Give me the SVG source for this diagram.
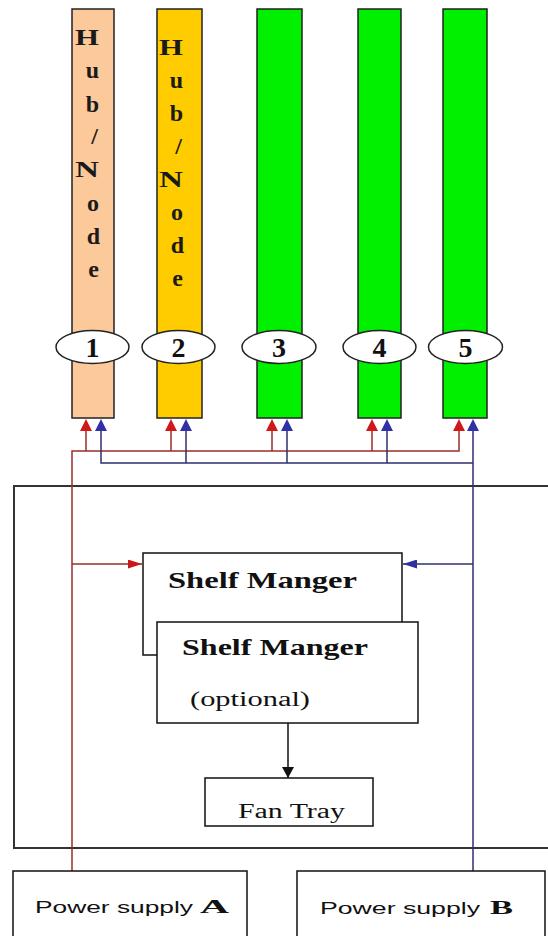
<svg xmlns="http://www.w3.org/2000/svg" width="548" height="936" viewBox="0 0 548 936">
<style>
.bar{stroke:#222;stroke-width:1.5}
.ell{fill:#fff;stroke:#222;stroke-width:1.5}
.num{font-family:"Liberation Serif",serif;font-weight:bold;font-size:28px;fill:#111;text-anchor:middle}
.hub{font-family:"Liberation Serif",serif;font-weight:bold;font-size:24px;fill:#1a1a1a;text-anchor:end}
.box{fill:#fff;stroke:#111;stroke-width:1.5}
.sm{font-family:"Liberation Serif",serif;font-weight:bold;font-size:24px;fill:#111}
.reg{font-family:"Liberation Serif",serif;font-size:20px;fill:#111}
.ps{font-family:"Liberation Sans",sans-serif;font-size:16px;fill:#111}
.psl{font-family:"Liberation Serif",serif;font-weight:bold;font-size:19px;fill:#111}
.rl{fill:none;stroke:#9a2c2c;stroke-width:1.5}
.bl{fill:none;stroke:#30306e;stroke-width:1.5}
.ra{fill:#d01818}
.ba{fill:#3030a8}
</style>
<defs>
<marker id="mr" viewBox="0 0 10 10" preserveAspectRatio="none" refX="10" refY="5" markerWidth="14" markerHeight="9" markerUnits="userSpaceOnUse" orient="auto"><path d="M0,0 L10,5 L0,10 z" fill="#c81818"/></marker>
<marker id="mb" viewBox="0 0 10 10" preserveAspectRatio="none" refX="10" refY="5" markerWidth="14" markerHeight="9" markerUnits="userSpaceOnUse" orient="auto"><path d="M0,0 L10,5 L0,10 z" fill="#3030a0"/></marker>
<marker id="mk" viewBox="0 0 10 10" preserveAspectRatio="none" refX="10" refY="5" markerWidth="11" markerHeight="12" markerUnits="userSpaceOnUse" orient="auto"><path d="M0,0 L10,5 L0,10 z" fill="#111"/></marker>
</defs>
<rect width="548" height="936" fill="#fff"/>

<g id="outer">
<rect x="14" y="486" width="560" height="362" fill="none" stroke="#333" stroke-width="2"/>
</g>

<g id="connectors">
<path class="rl" d="M72,871 V451 H459 V430"/>
<path class="rl" d="M86,451 V430 M171,451 V430 M272,451 V430 M372,451 V430"/>
<path class="rl" d="M72,564 H142" marker-end="url(#mr)"/>
<path class="bl" d="M473,871 V430 M101,430 V463 H473"/>
<path class="bl" d="M186,463 V430 M287,463 V430 M387,463 V430"/>
<path class="bl" d="M473,564 H403" marker-end="url(#mb)"/>
<path class="ra" d="M86,419 L80,431 L92,431 z M171,419 L165,431 L177,431 z M272,419 L266,431 L278,431 z M372,419 L366,431 L378,431 z M459,419 L453,431 L465,431 z"/>
<path class="ba" d="M101,419 L95,431 L107,431 z M186,419 L180,431 L192,431 z M287,419 L281,431 L293,431 z M387,419 L381,431 L393,431 z M473,419 L467,431 L479,431 z"/>
<path d="M288,723 V778" stroke="#111" stroke-width="1.5" fill="none" marker-end="url(#mk)"/>
</g>

<g id="slot1">
<rect class="bar" x="72" y="9" width="42" height="409" fill="#fcc99b"/>
<text class="hub" x="99" y="45" textLength="24" lengthAdjust="spacingAndGlyphs">H</text>
<text class="hub" x="99" y="78">u</text>
<text class="hub" x="99" y="112">b</text>
<text class="hub" x="98" y="144">/</text>
<text class="hub" x="99" y="177" textLength="24" lengthAdjust="spacingAndGlyphs">N</text>
<text class="hub" x="99" y="211">o</text>
<text class="hub" x="100" y="244">d</text>
<text class="hub" x="99" y="277">e</text>
<ellipse class="ell" cx="92.5" cy="347" rx="36.5" ry="16.5"/>
<text class="num" x="92.5" y="357">1</text>
</g>

<g id="slot2">
<rect class="bar" x="157" y="9" width="45" height="409" fill="#ffcc00"/>
<text class="hub" x="183" y="55" textLength="24" lengthAdjust="spacingAndGlyphs">H</text>
<text class="hub" x="183" y="88">u</text>
<text class="hub" x="183" y="121">b</text>
<text class="hub" x="182" y="154">/</text>
<text class="hub" x="183" y="187" textLength="24" lengthAdjust="spacingAndGlyphs">N</text>
<text class="hub" x="183" y="220">o</text>
<text class="hub" x="184" y="253">d</text>
<text class="hub" x="183" y="286">e</text>
<ellipse class="ell" cx="178.5" cy="347" rx="36.5" ry="16.5"/>
<text class="num" x="178.5" y="357">2</text>
</g>

<g id="slot3">
<rect class="bar" x="257" y="9" width="45" height="409" fill="#00f000"/>
<ellipse class="ell" cx="279" cy="347" rx="37" ry="16.5"/>
<text class="num" x="279" y="357">3</text>
</g>

<g id="slot4">
<rect class="bar" x="358" y="9" width="43" height="409" fill="#00f000"/>
<ellipse class="ell" cx="379.5" cy="347" rx="36.5" ry="16.5"/>
<text class="num" x="379.5" y="357">4</text>
</g>

<g id="slot5">
<rect class="bar" x="443" y="9" width="44" height="409" fill="#00f000"/>
<ellipse class="ell" cx="465.5" cy="347" rx="37" ry="16.5"/>
<text class="num" x="465.5" y="357">5</text>
</g>

<g id="shelf-manager-1">
<rect class="box" x="143" y="553" width="259" height="102"/>
<text class="sm" x="168" y="588" textLength="189" lengthAdjust="spacingAndGlyphs">Shelf Manger</text>
</g>

<g id="shelf-manager-2">
<rect class="box" x="157" y="622" width="261" height="101"/>
<text class="sm" x="182" y="655" textLength="186" lengthAdjust="spacingAndGlyphs">Shelf Manger</text>
<text class="reg" x="190" y="706" textLength="120" lengthAdjust="spacingAndGlyphs">(optional)</text>
</g>

<g id="fan-tray">
<rect class="box" x="205" y="778" width="168" height="48"/>
<text class="reg" x="238" y="818" textLength="107" lengthAdjust="spacingAndGlyphs">Fan Tray</text>
</g>

<g id="power-a">
<rect class="box" x="13" y="871" width="234" height="80"/>
<text class="ps" x="35" y="913" textLength="158" lengthAdjust="spacingAndGlyphs">Power  supply</text>
<text class="psl" x="200" y="913" textLength="29" lengthAdjust="spacingAndGlyphs">A</text>
</g>

<g id="power-b">
<rect class="box" x="297" y="871" width="248" height="80"/>
<text class="ps" x="320" y="914" textLength="160" lengthAdjust="spacingAndGlyphs">Power  supply</text>
<text class="psl" x="490" y="914" textLength="23" lengthAdjust="spacingAndGlyphs">B</text>
</g>
</svg>
